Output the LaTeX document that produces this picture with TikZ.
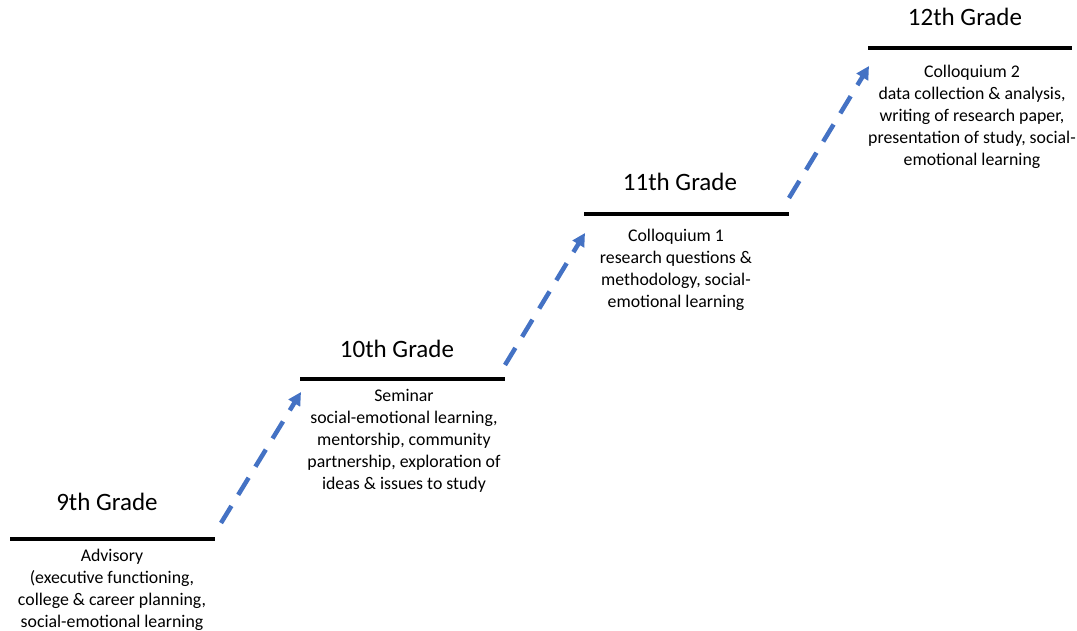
\documentclass[tikz,border=0pt]{standalone}
\usepackage{fontspec}
\setmainfont{Carlito}
\usetikzlibrary{arrows.meta}
\begin{document}
\begin{tikzpicture}[x=1pt,y=-1pt,
  stepline/.style={line width=3.5pt,black},
  title/.style={font=\fontsize{25}{28}\selectfont,anchor=base},
  body/.style={font=\fontsize{17.8}{22}\selectfont,align=center,anchor=north,inner sep=0pt},
  climb/.style={line width=4.5pt,color={rgb,255:red,68;green,114;blue,196},dash pattern=on 20pt off 13pt,-{Triangle[length=13pt,width=13pt]}}
]
\useasboundingbox (0,0) rectangle (1077,631);
% 9th
\coordinate (l9a) at (10,539); \coordinate (l9b) at (215,539);
\draw[stepline] (l9a) -- (l9b);
\node[title] (t9) at (107,510) {9th Grade};
\node[body] (b9) at (112,549) {Advisory\\(executive functioning,\\college \& career planning,\\social-emotional learning};
% 10th
\coordinate (l10a) at (300,379); \coordinate (l10b) at (505,379);
\draw[stepline] (l10a) -- (l10b);
\node[title] (t10) at (397,357) {10th Grade};
\node[body] (b10) at (404,389) {Seminar\\social-emotional learning,\\mentorship, community\\partnership, exploration of\\ideas \& issues to study};
% 11th
\coordinate (l11a) at (584,214); \coordinate (l11b) at (789,214);
\draw[stepline] (l11a) -- (l11b);
\node[title] (t11) at (680,191) {11th Grade};
\node[body] (b11) at (676,229) {Colloquium 1\\research questions \&\\methodology, social-\\emotional learning};
% 12th
\coordinate (l12a) at (868,48); \coordinate (l12b) at (1072,48);
\draw[stepline] (l12a) -- (l12b);
\node[title] (t12) at (965,26) {12th Grade};
\node[body] (b12) at (972,65) {Colloquium 2\\data collection \& analysis,\\writing of research paper,\\presentation of study, social-\\emotional learning};
% arrows
\coordinate (a1s) at (221,523); \coordinate (a1e) at (301,392);
\coordinate (a2s) at (505,365); \coordinate (a2e) at (585,233);
\coordinate (a3s) at (789,198); \coordinate (a3e) at (869,66);
\draw[climb] (a1s) -- (a1e);
\draw[climb] (a2s) -- (a2e);
\draw[climb] (a3s) -- (a3e);
\end{tikzpicture}
\end{document}
